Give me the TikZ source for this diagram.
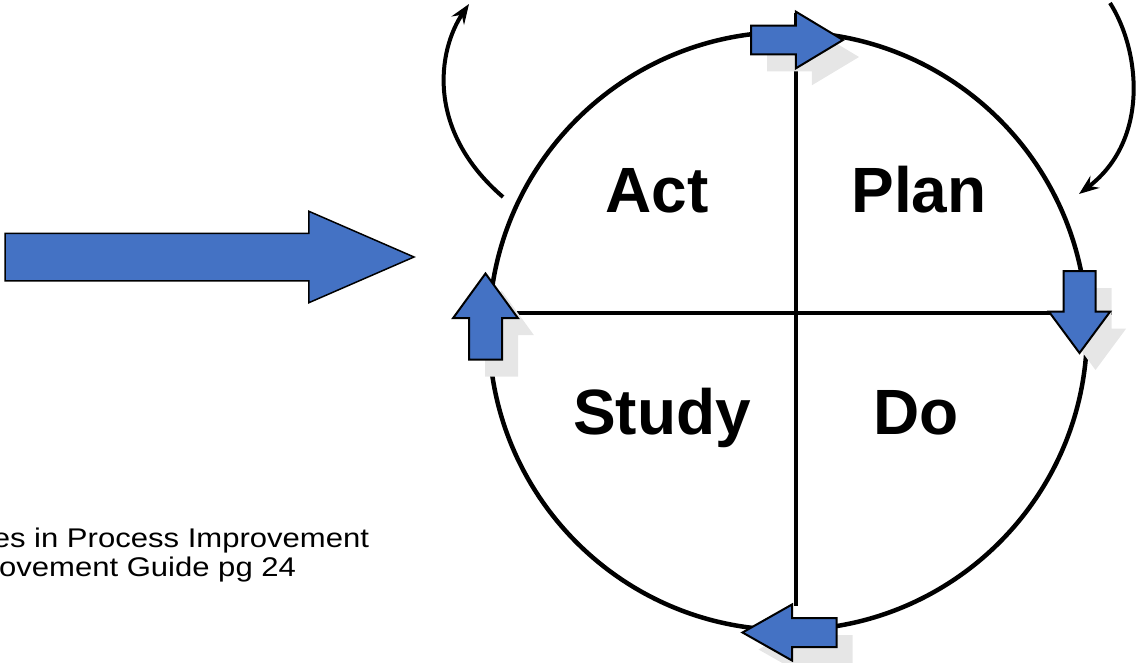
\documentclass[tikz,border=0pt]{standalone}
\usepackage{fontspec}
\setmainfont{Liberation Sans}
\newfontfamily\notefont[FakeStretch=1.15]{Liberation Sans}
\usetikzlibrary{shapes.arrows,shadows,arrows.meta}

\definecolor{pdsablue}{HTML}{4472C4}
\definecolor{pdsashade}{HTML}{E6E6E6}

\begin{document}
\begin{tikzpicture}[x = 1pt, y = -1pt,
        every node/.style={inner sep=0pt, outer sep=0pt},
        every path/.style={line width=4pt}
]
\tikzstyle{phase}= [font=\fontsize{64}{64}\selectfont\bfseries, anchor=base]
\tikzstyle{note}= [font=\notefont\fontsize{27}{30}\selectfont, anchor=base east]
\tikzstyle{turn}= [single arrow, draw=black, line width=2pt, fill=pdsablue, anchor=tail,
        single arrow head indent=0pt]
\tikzstyle{shaded}= [drop shadow={shadow xshift=16pt, shadow yshift=-17pt, fill=pdsashade, opacity=1}]
\tikzstyle{loop}= [line width=4pt, -{Stealth[length=20pt, width=15pt, inset=7pt]}]
    \useasboundingbox (0,0) rectangle (1142,663);

    \node[circle, draw, line width=4.5pt, minimum size=598pt] (wheel) at (788,331) {};
    \coordinate (top) at (795.5,13);
    \coordinate (bottom) at (795.5,606);
    \coordinate (left) at (517,313);
    \coordinate (right) at (1112,313);
    \draw (top) -- (bottom);
    \draw (left) -- (right);

    \node[turn, line width=1.5pt, inner sep=23pt, minimum height=409pt,
        single arrow head extend=22pt, single arrow tip angle=47] (enter) at (5,257) {};
    \node[turn, shaded, inner sep=13.3pt, minimum height=92pt,
        single arrow head extend=14pt, single arrow tip angle=62] (toplan) at (751,40) {};
    \node[turn, shaded, shape border rotate=270, inner sep=15pt, minimum height=82pt,
        single arrow head extend=14.7pt, single arrow tip angle=73] (todo) at (1079.5,271) {};
    \node[turn, shaded, shape border rotate=180, inner sep=13.5pt, minimum height=94pt,
        single arrow head extend=13.5pt, single arrow tip angle=59] (tostudy) at (836.5,632.5) {};
    \node[turn, shaded, shape border rotate=90, inner sep=15.5pt, minimum height=86pt,
        single arrow head extend=16pt, single arrow tip angle=72] (toact) at (485.5,359.5) {};

    \coordinate (actout) at (503,197);
    \coordinate (actin) at (469,4);
    \coordinate (planin) at (1110,3);
    \coordinate (planout) at (1079,194);
    \draw[loop] (actout) .. controls (425,130) and (438,50) .. (actin);
    \draw[loop] (planin) .. controls (1140,50) and (1150,140) .. (planout);

    \node[phase] (act) at (657,212) {Act};
    \node[phase] (plan) at (919,212) {Plan};
    \node[phase] (study) at (662,434) {Study};
    \node[phase] (do) at (916,434) {Do};

    \node[note] (source) at (369,547) {es in Process Improvement};
    \node[note] (guide) at (296,576) {ovement Guide pg 24};

\end{tikzpicture}
\end{document}
